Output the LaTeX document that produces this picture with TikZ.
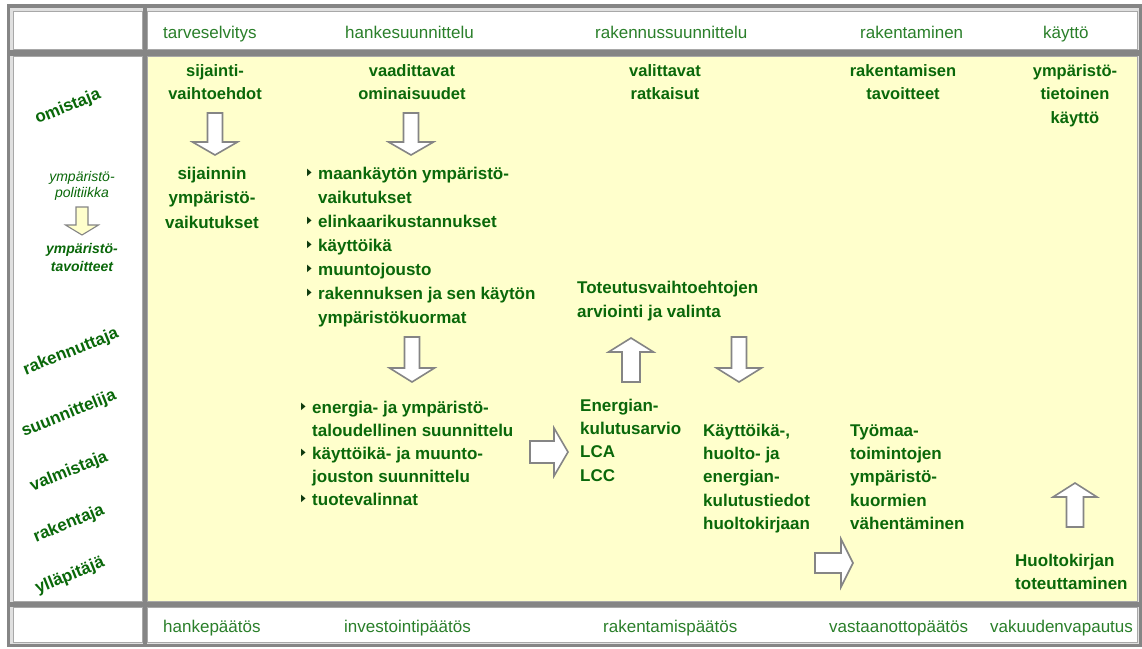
\documentclass[tikz,border=0pt]{standalone}
\usepackage{fontspec}
\usepackage{graphicx}
\setmainfont{Liberation Sans}
\newfontfamily\symf{DejaVu Sans}
\definecolor{hg}{HTML}{2A7F2A}
\definecolor{tg}{HTML}{0A680A}
\definecolor{bltc}{HTML}{0E3A0E}
\definecolor{framec}{HTML}{858585}
\definecolor{cellline}{HTML}{A8A8A8}
\definecolor{pale}{HTML}{FFFFCC}
\newcommand\tstr{\rule{0pt}{14pt}}
\newcommand\blt{\makebox[11pt][l]{\raisebox{3.5pt}{\color{bltc}\scalebox{0.6}[1]{\symf\fontsize{10}{10}\selectfont ▶}}}}
\newcommand\hind{\hspace*{11pt}}
\tikzset{
  bal/.store in=\bal, baw/.store in=\baw, bah/.store in=\bah, bahl/.store in=\bahl,
  bal=42, baw=15, bah=45, bahl=13,
  arrowst/.style={draw=framec, line width=1.6pt, fill=white, line join=miter},
  barrow/.pic={\draw[arrowst] ({-\bal/2},{-\baw/2}) -- ({\bal/2-\bahl},{-\baw/2}) -- ({\bal/2-\bahl},{-\bah/2}) -- ({\bal/2},0) -- ({\bal/2-\bahl},{\bah/2}) -- ({\bal/2-\bahl},{\baw/2}) -- ({-\bal/2},{\baw/2}) -- cycle;},
  cell/.style={draw=cellline, line width=0.8pt},
  hdr/.style={font=\fontsize{17}{20}\selectfont, text=hg, inner sep=0pt, anchor=base west},
  ctitle/.style={font=\bfseries\fontsize{16.5}{23.5}\selectfont, text=tg, align=center, inner sep=0pt, anchor=north},
  btxt/.style={font=\bfseries\fontsize{17}{23.3}\selectfont, text=tg, align=left, inner sep=0pt, anchor=north west},
  role/.style={font=\bfseries\fontsize{17}{19}\selectfont, text=tg, rotate=22, inner sep=0pt},
}
\begin{document}
\begin{tikzpicture}[x=1pt,y=-1pt]
\useasboundingbox (0,0) rectangle (1142,648);
% table frame
\fill[framec] (7,4) rectangle (1142,647);
\fill[black!12] (10,8) rectangle (1139,644);
\fill[framec] (10,50) rectangle (1139,55.5);
\fill[framec] (10,601.5) rectangle (1139,607);
\fill[framec] (142.8,8) rectangle (146.6,644);
% cells
\path[cell, fill=white] (13,11) rectangle (142.5,49.5);
\path[cell, fill=white] (147,11) rectangle (1137,49.5);
\path[cell, fill=white] (13,56) rectangle (142.5,601);
\path[cell, fill=pale] (147,56) rectangle (1137,601);
\path[cell, fill=white] (13,607.5) rectangle (142.5,642);
\path[cell, fill=white] (147,607.5) rectangle (1137,642);
% header phases
\node[hdr] (h1) at (163,38.5) {tarveselvitys};
\node[hdr] (h2) at (345,38.5) {hankesuunnittelu};
\node[hdr] (h3) at (595,38.5) {rakennussuunnittelu};
\node[hdr] (h4) at (860,38.5) {rakentaminen};
\node[hdr] (h5) at (1043,38.5) {käyttö};
% bottom decisions
\node[hdr] (d1) at (163,632) {hankepäätös};
\node[hdr] (d2) at (344,632) {investointipäätös};
\node[hdr] (d3) at (603,632) {rakentamispäätös};
\node[hdr] (d4) at (829,632) {vastaanottopäätös};
\node[hdr] (d5) at (990,632) {vakuudenvapautus};
% left column roles
\node[role] (r1) at (68,107) {omistaja};
\node[font=\itshape\fontsize{14}{16.5}\selectfont, text=tg, align=center, inner sep=0pt] (p1) at (82,186) {ympäristö-\\politiikka};
\pic[rotate=-90, bal=28, baw=12, bah=33, bahl=10, arrowst/.append style={fill=pale, line width=1.1pt}] (a0) at (82,221) {barrow};
\node[font=\bfseries\itshape\fontsize{14}{18}\selectfont, text=tg, align=center, inner sep=0pt] (p2) at (82,257) {ympäristö-\\tavoitteet};
\node[role] (r2) at (71,352) {rakennuttaja};
\node[role] (r3) at (69,414) {suunnittelija};
\node[role] (r4) at (69,472) {valmistaja};
\node[role] (r5) at (69,524) {rakentaja};
\node[role] (r6) at (70,576) {ylläpitäjä};
% top goals
\node[ctitle] (t1) at (215,62) {\tstr sijainti-\\vaihtoehdot};
\node[ctitle] (t2) at (412,62) {\tstr vaadittavat\\ominaisuudet};
\node[ctitle] (t3) at (665,62) {\tstr valittavat\\ratkaisut};
\node[ctitle] (t4) at (903,62) {\tstr rakentamisen\\tavoitteet};
\node[ctitle] (t5) at (1075,62) {\tstr ympäristö-\\tietoinen\\käyttö};
% arrows
\pic[rotate=-90] (a1) at (215,134) {barrow};
\pic[rotate=-90] (a2) at (411,134) {barrow};
\pic[rotate=-90, bal=45, bahl=14] (a3) at (412,359.5) {barrow};
\pic[rotate=90, bal=44, baw=18, bahl=14] (a4) at (631,360) {barrow};
\pic[rotate=-90, bal=45, bahl=14] (a5) at (739,359.5) {barrow};
\pic[bal=38, baw=22, bah=48, bahl=14] (a6) at (549,452) {barrow};
\pic[bal=38, baw=20, bah=48, bahl=12] (a7) at (834,563) {barrow};
\pic[rotate=90, bal=44, baw=17, bah=44, bahl=14] (a8) at (1075,505) {barrow};
% texts
\node[btxt, align=center, anchor=north, font=\bfseries\fontsize{17}{24.5}\selectfont] (s2) at (212,165) {\tstr sijainnin\\ympäristö-\\vaikutukset};
\node[btxt, font=\bfseries\fontsize{17}{24}\selectfont] (l1) at (307,165) {\tstr\blt maankäytön ympäristö-\\\hind vaikutukset\\\blt elinkaarikustannukset\\\blt käyttöikä\\\blt muuntojousto\\\blt rakennuksen ja sen käytön\\\hind ympäristökuormat};
\node[btxt, font=\bfseries\fontsize{17}{23}\selectfont] (l2) at (301,399) {\tstr\blt energia- ja ympäristö-\\\hind taloudellinen suunnittelu\\\blt käyttöikä- ja muunto-\\\hind jouston suunnittelu\\\blt tuotevalinnat};
\node[btxt, font=\bfseries\fontsize{17}{24}\selectfont] (v1) at (577,279) {\tstr Toteutusvaihtoehtojen\\arviointi ja valinta};
\node[btxt] (e1) at (580,397) {\tstr Energian-\\kulutusarvio\\LCA\\LCC};
\node[btxt] (k1) at (703,422) {\tstr Käyttöikä-,\\huolto- ja\\energian-\\kulutustiedot\\huoltokirjaan};
\node[btxt] (w1) at (850,422) {\tstr Työmaa-\\toimintojen\\ympäristö-\\kuormien\\vähentäminen};
\node[btxt, font=\bfseries\fontsize{17}{23}\selectfont] (m1) at (1015,552) {\tstr Huoltokirjan\\toteuttaminen};
\end{tikzpicture}
\end{document}
